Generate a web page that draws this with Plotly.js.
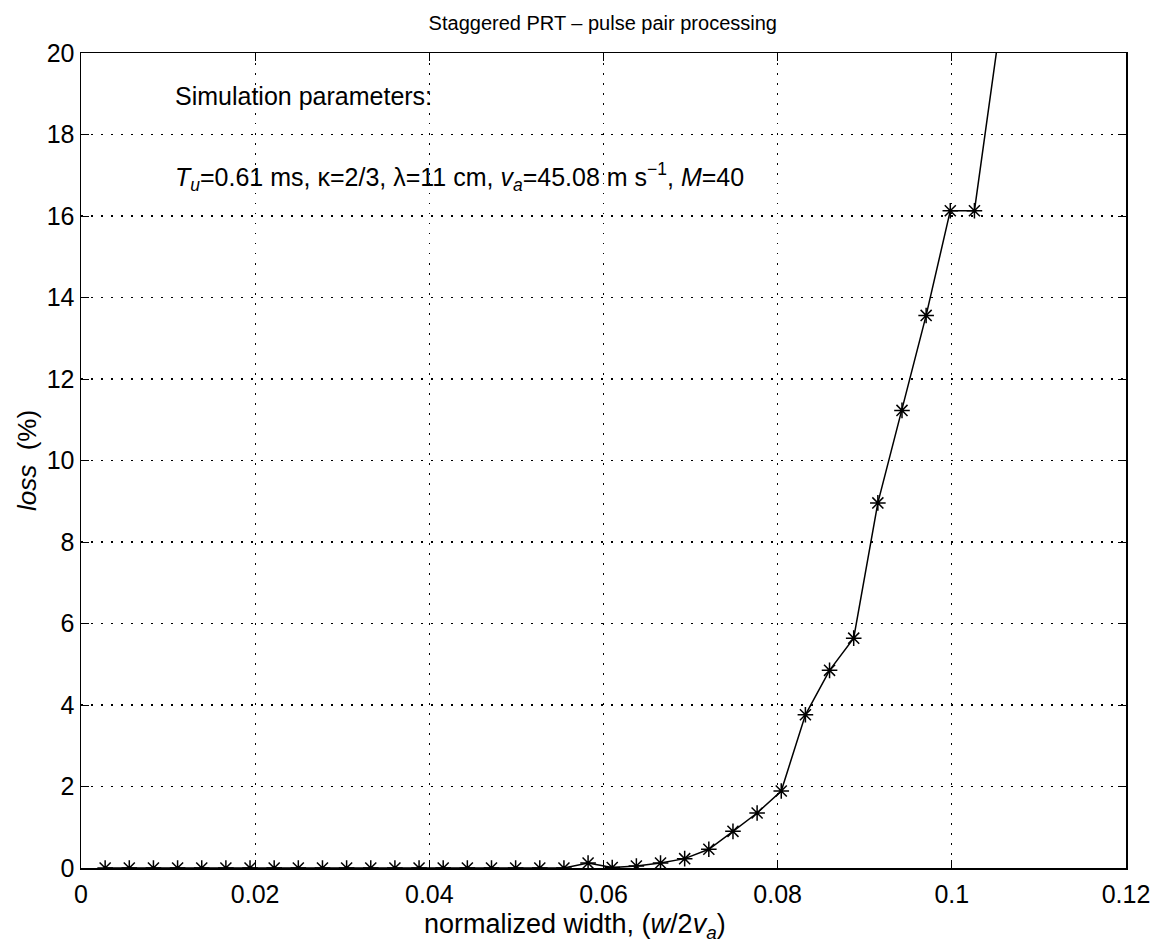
<!DOCTYPE html>
<html>
<head>
<meta charset="utf-8">
<script src="https://cdn.plot.ly/plotly-3.0.1.min.js"></script>
<style>html,body{margin:0;padding:0;background:#fff;}#chart{width:1157px;height:949px;}</style>
</head>
<body>
<div id="chart"></div>
<script>
// Sample index i (spectrum width w = 0.25*i m/s), normalized by 2*va
const va = 45.08;
const widthIndex = [1,2,3,4,5,6,7,8,9,10,11,12,13,14,15,16,17,18,19,20,21,22,23,24,25,26,27,28,29,30,31,32,33,34,35,36,37,38];
const normalizedWidth = widthIndex.map(i => i * 0.25 / (2 * va));
const lossPercent = [0,0,0,0,0,0,0,0,0,0,0,0,0,0,0,0,0,0,0,0,
  0.12,0.01,0.05,0.12,0.23,0.46,0.90,1.35,1.89,3.76,4.85,5.64,8.96,11.23,13.56,16.13,16.13,20.4];
const xTicks = [0,0.02,0.04,0.06,0.08,0.1,0.12];
const yTicks = [0,2,4,6,8,10,12,14,16,18,20];

const fontFam = '"Liberation Sans", Arial, Helvetica, sans-serif';

const trace = {
  x: normalizedWidth,
  y: lossPercent,
  type: 'scatter',
  mode: 'lines+markers',
  line: {color: '#000', width: 1.5},
  marker: {symbol: 'asterisk-open', size: 13, color: '#000', line: {color: '#000', width: 1.5}},
  cliponaxis: true,
  showlegend: false
};

const axisCommon = {
  showline: true, linecolor: '#000', linewidth: 1.5, mirror: 'allticks',
  ticks: 'inside', ticklen: 8, tickcolor: '#000', tickwidth: 1,
  showgrid: true, gridcolor: '#000', gridwidth: 1.2, griddash: '1.5px,8.5px',
  zeroline: false,
  tickfont: {family: fontFam, size: 25, color: '#000'}
};

const layout = {
  width: 1157, height: 949,
  margin: {l: 81, r: 31, t: 53, b: 81},
  paper_bgcolor: '#fff', plot_bgcolor: '#fff',
  font: {family: fontFam, color: '#000', size: 20},
  title: {text: 'Staggered PRT \u2013 pulse pair processing', font: {family: fontFam, size: 20, color: '#000'},
          x: 0.521, xanchor: 'center', y: 0.976, yanchor: 'middle', yref: 'container'},
  xaxis: Object.assign({}, axisCommon, {
    range: [0, 0.12], tickvals: xTicks, ticktext: xTicks.map(String),
    ticklabelstandoff: 3
  }),
  yaxis: Object.assign({}, axisCommon, {
    range: [0, 20], tickvals: yTicks, ticktext: yTicks.map(String),
    ticklabelstandoff: 0,
    title: {text: '<i>loss</i>  (%)', font: {family: fontFam, size: 26, color: '#000'}, standoff: 2}
  }),
  annotations: [
    {xref: 'paper', yref: 'paper', x: 0.4727, y: -0.0478, xanchor: 'center', yanchor: 'top', showarrow: false,
     text: 'normalized width, (<i>w</i>/2<i>v</i><sub><i>a</i></sub>)', font: {family: fontFam, size: 27, color: '#000'}},
    {xref: 'paper', yref: 'paper', x: 0.088, y: 0.947, xanchor: 'left', yanchor: 'middle', showarrow: false,
     text: 'Simulation parameters:', font: {family: fontFam, size: 25, color: '#000'}},
    {xref: 'paper', yref: 'paper', x: 0.088, y: 0.848, xanchor: 'left', yanchor: 'middle', showarrow: false,
     text: '<i>T</i><sub><i>u</i></sub>=0.61 ms, \u03ba=2/3, \u03bb=11 cm, <i>v</i><sub><i>a</i></sub>=45.08 m s<sup>\u22121</sup>, <i>M</i>=40',
     font: {family: fontFam, size: 25, color: '#000'}}
  ]
};

Plotly.newPlot('chart', [trace], layout, {displayModeBar: false, staticPlot: true});
</script>
</body>
</html>
